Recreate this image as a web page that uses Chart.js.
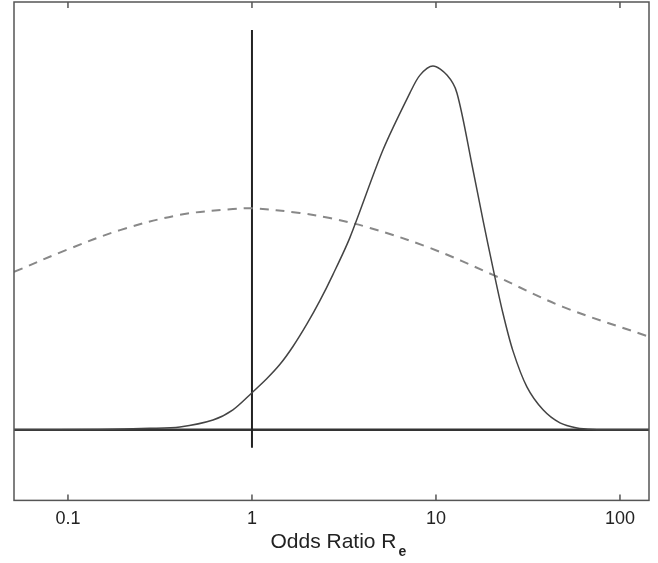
<!DOCTYPE html>
<html>
<head>
<meta charset="utf-8">
<script src="https://cdn.jsdelivr.net/npm/chart.js@4.4.1/dist/chart.umd.min.js"></script>
<style>
  html, body { margin: 0; padding: 0; background: #fff; }
  #wrap { width: 658px; height: 563px; }
</style>
</head>
<body>
<div id="wrap"><canvas id="odds-chart"></canvas></div>
<script>
// x range of the plot (odds ratio)
const xMin = 0.0509;
const xMax = 143.8;
const yMin = -0.194;
const yMax = 1.176;

const tickValues = [0.1, 1, 10, 100];

// solid curve (sharp, peaked near 10)
const solidOR = [0.0509, 0.149, 0.279, 0.406, 0.614, 0.788, 1.0, 1.206, 1.42, 1.67, 1.99, 2.34, 2.75, 3.41, 5.15, 7.22, 8.19, 9.63, 11.47, 13.0, 15.7, 18.0, 20.4, 23.1, 26.2, 31.2, 38.2, 47.2, 58.4, 71.3, 100, 143.8];
const solidY  = [0, 0.001, 0.004, 0.008, 0.027, 0.055, 0.102, 0.141, 0.180, 0.229, 0.291, 0.355, 0.426, 0.529, 0.769, 0.926, 0.975, 1.0, 0.975, 0.926, 0.728, 0.577, 0.445, 0.321, 0.217, 0.118, 0.055, 0.019, 0.005, 0.001, 0, 0];

// dashed curve (broad)
const dashedOR = [0.0509, 0.0988, 0.192, 0.406, 0.788, 1.01, 1.82, 2.65, 4.38, 9.28, 20.4, 49.0, 143.8];
const dashedY  = [0.434, 0.495, 0.549, 0.591, 0.607, 0.609, 0.596, 0.582, 0.555, 0.500, 0.426, 0.338, 0.256];

// vertical line at odds ratio 1
const refOR = [1, 1];
const refY = [-0.049, 1.099];

// zero line
const baseOR = [xMin, xMax];
const baseY = [0, 0];

const pts = (xs, ys) => xs.map((x, i) => ({ x: x, y: ys[i] }));

// frame, inward ticks and the axis title with subscript
const framePlugin = {
  id: 'frame',
  afterDraw(chart) {
    const ctx = chart.ctx;
    const a = chart.chartArea;
    const xs = chart.scales.x;
    ctx.save();
    ctx.strokeStyle = '#555';
    ctx.lineWidth = 1.5;
    ctx.strokeRect(a.left, a.top, a.right - a.left, a.bottom - a.top);
    tickValues.forEach(v => {
      const px = xs.getPixelForValue(v);
      ctx.beginPath();
      ctx.moveTo(px, a.top);
      ctx.lineTo(px, a.top + 6);
      ctx.moveTo(px, a.bottom);
      ctx.lineTo(px, a.bottom - 6);
      ctx.stroke();
    });
    // axis title
    ctx.fillStyle = '#222';
    ctx.textBaseline = 'alphabetic';
    ctx.font = '21px "Liberation Sans", Arial, sans-serif';
    const main = 'Odds Ratio R';
    const w = ctx.measureText(main).width;
    const cx = (a.left + a.right) / 2 + 2;
    const x0 = cx - w / 2;
    ctx.fillText(main, x0, 548);
    ctx.font = 'bold 14px "Liberation Sans", Arial, sans-serif';
    ctx.fillText('e', x0 + w + 2, 556);
    ctx.restore();
  }
};

new Chart(document.getElementById('odds-chart'), {
  type: 'line',
  data: {
    datasets: [
      {
        label: 'solid',
        data: pts(solidOR, solidY),
        borderColor: '#444',
        borderWidth: 1.5,
        pointRadius: 0,
        fill: false,
        tension: 0.3
      },
      {
        label: 'dashed',
        data: pts(dashedOR, dashedY),
        borderColor: '#888',
        borderWidth: 2,
        borderDash: [9, 7],
        pointRadius: 0,
        fill: false,
        tension: 0.35
      },
      {
        label: 'ref',
        data: pts(refOR, refY),
        borderColor: '#222',
        borderWidth: 2,
        pointRadius: 0,
        fill: false
      },
      {
        label: 'base',
        data: pts(baseOR, baseY),
        borderColor: '#333',
        borderWidth: 2.5,
        pointRadius: 0,
        fill: false
      }
    ]
  },
  options: {
    responsive: true,
    maintainAspectRatio: false,
    animation: false,
    layout: { padding: { left: 14, right: 9, top: 2, bottom: 25 } },
    plugins: {
      legend: { display: false },
      tooltip: { enabled: false }
    },
    scales: {
      x: {
        type: 'logarithmic',
        min: xMin,
        max: xMax,
        border: { display: false },
        grid: { display: false, drawTicks: false, tickLength: 0 },
        afterBuildTicks: scale => {
          scale.ticks = tickValues.map(v => ({ value: v }));
        },
        ticks: {
          autoSkip: false,
          maxRotation: 0,
          padding: 8,
          color: '#222',
          font: { family: '"Liberation Sans", Arial, sans-serif', size: 18 },
          callback: v => String(v)
        }
      },
      y: {
        display: false,
        min: yMin,
        max: yMax
      }
    }
  },
  plugins: [framePlugin]
});
</script>
</body>
</html>
